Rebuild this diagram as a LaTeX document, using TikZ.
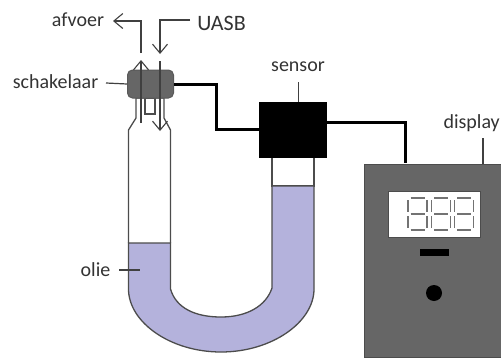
\documentclass[tikz,border=0pt]{standalone}
\usepackage{fontspec}
\setmainfont{Carlito}
\usetikzlibrary{arrows.meta, positioning, calc}
\definecolor{oil}{RGB}{180,178,220}

\begin{document}
\begin{tikzpicture}[
      x=1pt, y=-1pt,
      lbl/.style={font=\fontsize{20}{20}\selectfont, text=black!80, inner sep=0pt},
      thin line/.style={draw=black!75, line width=1.2pt},
      arr/.style={thin line, -{Straight Barb[length=9pt, width=15pt, line width=1.1pt]}},
      wire/.style={draw=black, line width=3pt, line join=miter},
      glass/.style={draw=black!70, line width=1.3pt},
      housing/.style={draw=black!65, fill=black!60, line width=1pt},
      seg/.style={draw=black!55, line width=1.1pt}
    ]
    \useasboundingbox (0,0) rectangle (501,359);

    % oil and glass
    \draw[glass, fill=white] (128.5,243) -- (128.5,130) -- (136,118) -- (136,98) -- (164,98) -- (164,118) -- (170.5,130) -- (170.5,243);
    \draw[glass, fill=white] (272,157) rectangle (314,186);
    \draw[glass, fill=oil] (128.5,243) -- (170.5,243) -- (170.5,289)
      .. controls (176,308) and (195,317) .. (221,317)
      .. controls (247,317) and (266,306) .. (272,288)
      -- (272,186) -- (314,186) -- (314,289)
      .. controls (314,322) and (272,352) .. (221,352)
      .. controls (170,352) and (128.5,322) .. (128.5,289) -- cycle;
    \draw[glass] (145,98) rectangle (155,114);

    % switch
    \node[housing, rounded corners=5pt, minimum width=46pt, minimum height=28pt, inner sep=0pt] (switch) at (150.5,84) {};
    \node[draw=black, fill=black, minimum width=67pt, minimum height=55pt, inner sep=0pt] (sensor) at (292.5,129.5) {};
    \node[draw=black!70, fill=black!60, line width=1pt, minimum width=140pt, minimum height=193pt, inner sep=0pt] (box) at (434,260.5) {};

    % display
    \node[draw=black!70, fill=white, line width=1pt, minimum width=92pt, minimum height=46pt, inner sep=0pt] (screen) at (434,214) {};
    \node[fill=black, minimum width=29pt, minimum height=7pt, inner sep=0pt] (bar) at (434.5,252) {};
    \node[circle, fill=black, minimum size=16pt, inner sep=0pt] (knob) at (434,293) {};
    \foreach \dx in {417.5,441,464} {
      \foreach \sx/\sy/\ex/\ey in {-7/-16/7/-16, -7/0/7/0, -7/16/7/16,
                                   -9.5/-14/-9.5/-2, -9.5/2/-9.5/14, 9.5/-14/9.5/-2, 9.5/2/9.5/14}
        \draw[seg] (\dx+\sx,214+\sy) -- (\dx+\ex,214+\ey);
    }

    % labels
    \node[lbl] (afvoer) at (78,20) {afvoer};
    \node[lbl, font=\fontsize{22}{22}\selectfont] (uasb) at (221.5,23) {UASB};
    \node[lbl] (schakelaar) at (55.5,82) {schakelaar};
    \node[lbl] (sensortxt) at (298,67) {sensor};
    \node[lbl, anchor=east] (displaytxt) at (500,123) {display};
    \node[lbl] (olie) at (95.5,270) {olie};

    \coordinate (oilend) at (140,270);
    \coordinate (out1) at (141,53);
    \coordinate (out2) at (141,21);
    \coordinate (out3) at (113,21);
    \coordinate (in1) at (190,20);
    \coordinate (in2) at (160,20);
    \coordinate (in3) at (160,54);
    \coordinate (senstop) at (298.5,82);
    \coordinate (disptop) at (483,138);

    % connectors
    \draw[thin line] (106,83) -- (switch.west);
    \draw[thin line] (119,270) -- (oilend);
    \draw[thin line] (senstop) -- (senstop |- sensor.north);
    \draw[thin line] (disptop) -- (disptop |- box.north);
    \draw[arr] (out1) -- (out2) -- (out3);
    \draw[arr] (in1) -- (in2) -- (in3);
    \draw[arr] (141,123) -- (141,60);
    \draw[arr] (160,61) -- (160,131);
    \draw[wire] (switch.east) -- (216,84) |- (sensor.west);
    \draw[wire] (sensor.east |- 0,122) -| (405,163);
  \end{tikzpicture}
\end{document}
